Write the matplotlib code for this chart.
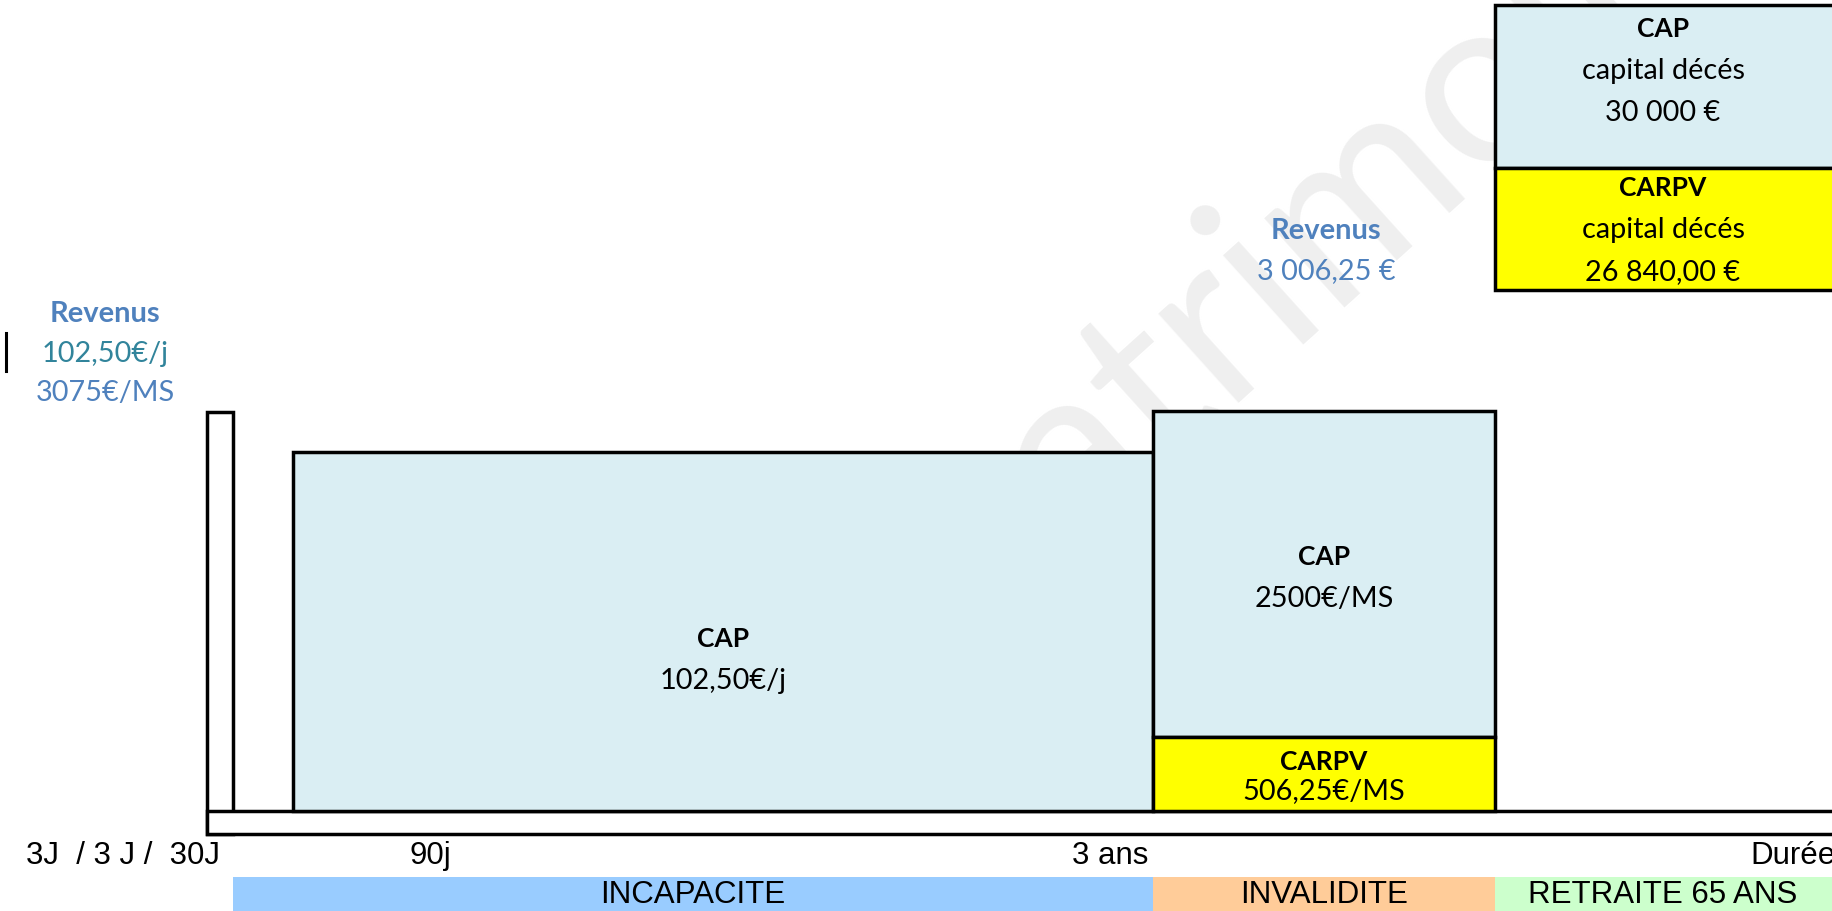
import matplotlib.pyplot as plt

# --- Données (unités : pixels de la frise, y vers le haut depuis la ligne de base) ---
seg_labels = ["INCAPACITE", "INVALIDITE", "RETRAITE 65 ANS"]
seg_start = [233, 1153, 1495]
seg_end = [1153, 1495, 1840]
seg_colors = ["#99CCFF", "#FFCC99", "#CCFFCC"]

# blocs de garanties : gauche, droite, bas, haut
blocs_left = [293, 1153, 1153, 1495, 1495]
blocs_right = [1153, 1495, 1495, 1840, 1840]
blocs_bottom = [0, 74, 0, 643, 521]
blocs_top = [359, 400, 74, 806, 643]
blocs_colors = ["#DAEEF3", "#DAEEF3", "#FFFF00", "#DAEEF3", "#FFFF00"]
blocs_titre = ["CAP", "CAP", "CARPV", "CAP", "CARPV"]
blocs_texte = ["102,50€/j", "2500€/MS", "506,25€/MS",
               "capital décés\n30 000 €", "capital décés\n26 840,00 €"]

jalons = ["3J  / 3 J /  30J", "90j", "3 ans", "Durée"]
jalons_x = [123, 430, 1110, 1750]

BLEU = "#4F81BD"
TEAL = "#31849B"
F_CAL = "Lato"
F_ARIAL = "Liberation Sans"
FS = 20.8   # texte courant
FSB = 19    # titres gras

fig = plt.figure(figsize=(18.32, 9.12), dpi=100)
ax = fig.add_axes([0, 0, 1, 1])
ax.set_xlim(0, 1832)
ax.set_ylim(-100, 812)
ax.axis("off")

# filigrane (en deux morceaux, ancrés au début du "a")
wm = dict(rotation=42, rotation_mode="anchor", va="baseline", fontsize=170,
          family=F_CAL, color="#EFEFEF", zorder=0)
ax.text(1075, 268, "atrimoine", ha="left", **wm)
ax.text(1075, 268, "P", ha="right", **wm)

# petite case franchise + bande de base
ax.bar(207, 422, width=26, bottom=-23, align="edge", color="white",
       edgecolor="black", linewidth=2.5, zorder=2)
ax.bar(207, 23, width=1700, bottom=-23, align="edge", color="white",
       edgecolor="black", linewidth=2.5, zorder=2)

for l, r, b, t, c in zip(blocs_left, blocs_right, blocs_bottom, blocs_top, blocs_colors):
    ax.bar(l, t - b, width=r - l, bottom=b, align="edge", color=c,
           edgecolor="black", linewidth=2.5, zorder=3)

# textes des blocs
pos_titre = [(723, 812 - 639), (1324, 812 - 557), (1324, 812 - 762),
             (1663, 812 - 29), (1663, 812 - 188)]
for (x, y), titre, txt in zip(pos_titre, blocs_titre, blocs_texte):
    ax.text(x, y, titre, ha="center", va="center", fontsize=FSB,
            fontweight="bold", family=F_CAL, zorder=5)
    lignes = txt.split("\n")
    for i, ligne in enumerate(lignes):
        dy = 42 if titre == "CAP" or len(lignes) > 1 else 29
        ax.text(x, y - dy * (i + 1), ligne, ha="center", va="center",
                fontsize=FS, family=F_CAL, zorder=5)

# revenus
ax.text(105, 812 - 314, "Revenus", ha="center", va="center", fontsize=21,
        fontweight="bold", family=F_CAL, color=BLEU)
ax.text(105, 812 - 354, "102,50€/j", ha="center", va="center", fontsize=FS,
        family=F_CAL, color=TEAL)
ax.text(105, 812 - 393, "3075€/MS", ha="center", va="center", fontsize=FS,
        family=F_CAL, color=BLEU)
ax.plot([6, 6], [812 - 334, 812 - 372], color="black", linewidth=2.2)

ax.text(1326, 812 - 231, "Revenus", ha="center", va="center", fontsize=21,
        fontweight="bold", family=F_CAL, color=BLEU)
ax.text(1326, 812 - 271, "3 006,25 €", ha="center", va="center", fontsize=FS,
        family=F_CAL, color=BLEU)

# jalons
for x, lab in zip(jalons_x, jalons):
    ha = "left" if lab == "Durée" else "center"
    ax.text(x, 812 - 856, lab, ha=ha, va="center", fontsize=22.5, family=F_ARIAL)

# périodes
for s, e, c, lab in zip(seg_start, seg_end, seg_colors, seg_labels):
    ax.bar(s, 34, width=e - s, bottom=-100, align="edge", color=c,
           linewidth=0, zorder=2)
    ax.text((s + min(e, 1832)) / 2 if lab != "RETRAITE 65 ANS" else 1663,
            -83, lab, ha="center", va="center", fontsize=22.5, family=F_ARIAL, zorder=4)

fig.savefig("out.png", dpi=100)
